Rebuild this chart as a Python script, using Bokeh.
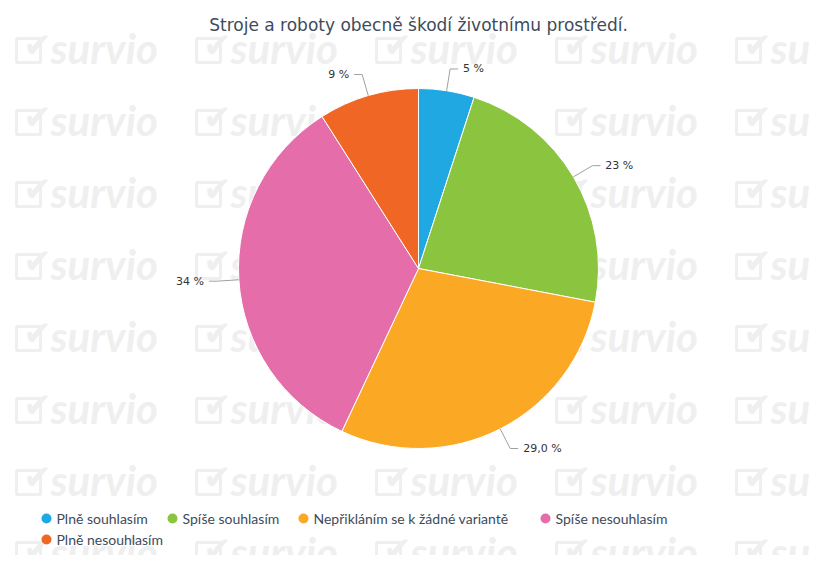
import numpy as np
from bokeh.plotting import figure
from bokeh.models import ColumnDataSource
from bokeh.core.properties import value
from bokeh.embed import file_html
from bokeh.resources import INLINE

# ---- data ----
title_text = "Stroje a roboty obecně škodí životnímu prostředí."
categories = ["Plně souhlasím", "Spíše souhlasím", "Nepřikláním se k žádné variantě",
              "Spíše nesouhlasím", "Plně nesouhlasím"]
values = [5, 23, 29, 34, 9]
labels = ["5 %", "23 %", "29,0 %", "34 %", "9 %"]
colors = ["#1FA8E1", "#8BC540", "#FBA924", "#E56EAA", "#F06725"]

# ---- layout ----
W, H = 809, 555
def X(px):
    return px
def Y(py):
    return H - py

p = figure(width=W, height=H, x_range=(0, W), y_range=(0, H),
           output_backend="svg", toolbar_location=None, min_border=0)
p.axis.visible = False
p.grid.visible = False
p.outline_line_color = None
p.background_fill_color = "white"
p.border_fill_color = "white"

# watermark
WM = "#efefef"
wm_cols = np.arange(0, 5)
wm_rows = np.arange(0, 8)
wx, wy, bx_, by_, kx, ky = [], [], [], [], [], []
for r in wm_rows:
    for c in wm_cols:
        base_y = 47 + 72 * r
        wx.append(X(50 + 180 * c)); wy.append(Y(base_y))
        bx_.append(X(28 + 180 * c)); by_.append(Y(base_y + 3))
        kx.append(X(37 + 180 * c)); ky.append(Y(base_y - 3))
p.text(x=wx, y=wy, text=["survio"] * len(wx), text_font=value("Lato"),
       text_font_style="bold italic", text_font_size="42px", text_align="left",
       text_baseline="middle", text_color=WM)
p.rect(x=bx_, y=by_, width=24, height=24, fill_color=None, line_color=WM, line_width=3)
p.text(x=kx, y=ky, text=["✔"] * len(kx), text_font=value("DejaVu Sans"),
       text_font_size="34px", text_align="center", text_baseline="middle",
       text_color=WM)

# pie
cx, cy, R = X(418), Y(268), 180
total = sum(values)
fr = np.array(values) / total
cum = np.concatenate([[0], np.cumsum(fr)])
start = np.pi / 2 - 2 * np.pi * cum[:-1]
end = np.pi / 2 - 2 * np.pi * cum[1:]
src = ColumnDataSource(dict(start=start, end=end, color=colors, cat=categories))
p.wedge(x=cx, y=cy, radius=R, start_angle="start", end_angle="end",
        direction="clock", fill_color="color", line_color="white", line_width=1,
        source=src)

# data labels with connectors
mid = np.pi / 2 - 2 * np.pi * (cum[:-1] + fr / 2)
D = 22
for i, a in enumerate(mid):
    ex, ey = cx + R * np.cos(a), cy + R * np.sin(a)
    bx, by = cx + (R + D) * np.cos(a), cy + (R + D) * np.sin(a)
    right = np.cos(a) >= 0
    sgn = 1 if right else -1
    p.line(x=[ex, bx, bx + sgn * 8], y=[ey, by, by], line_color="#a0a0a0", line_width=1)
    p.text(x=[bx + sgn * 13], y=[by], text=[labels[i]], text_font=value("DejaVu Sans"),
           text_font_size="11px", text_color="#333333",
           text_align="left" if right else "right", text_baseline="middle")

# title
p.text(x=[cx], y=[Y(24)], text=[title_text], text_font=value("DejaVu Sans"),
       text_font_size="17px", text_color="#3e4b5b", text_align="center",
       text_baseline="middle")

# legend
leg_px = [46, 172, 303, 545, 46]
leg_py = [518, 518, 518, 518, 539]
lx = [X(v) for v in leg_px]
ly = [Y(v) for v in leg_py]
p.scatter(x=lx, y=ly, size=10, marker="circle", fill_color=colors, line_color=None)
p.text(x=[v + 10 for v in lx], y=ly, text=categories, text_font=value("Lato"),
       text_font_size="14px", text_color="#3e4b5b", text_align="left",
       text_baseline="middle")

open("out.html", "w").write(file_html(p, INLINE))
